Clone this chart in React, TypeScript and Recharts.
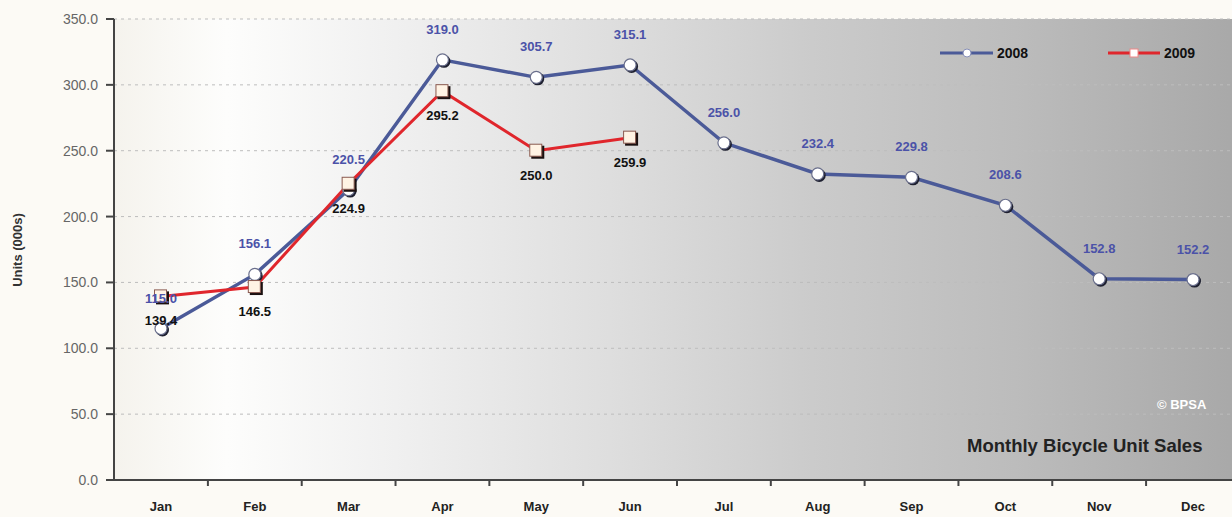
import React from "react";
import {
  LineChart,
  Line,
  XAxis,
  YAxis,
  CartesianGrid,
  Legend,
  LabelList,
} from "recharts";

const MONTHS = ["Jan", "Feb", "Mar", "Apr", "May", "Jun", "Jul", "Aug", "Sep", "Oct", "Nov", "Dec"];
const SALES_2008 = [115.0, 156.1, 220.5, 319.0, 305.7, 315.1, 256.0, 232.4, 229.8, 208.6, 152.8, 152.2];
const SALES_2009 = [139.4, 146.5, 224.9, 295.2, 250.0, 259.9, null, null, null, null, null, null];
const Y_TICKS = [0, 50, 100, 150, 200, 250, 300, 350];

const BLUE = "#4b5a98";
const RED = "#e0262c";
const FONT = "'Liberation Sans', Arial, sans-serif";
const HALF_BAND = 46.9;

const data = MONTHS.map((m, i) => ({ month: m, y2008: SALES_2008[i], y2009: SALES_2009[i] }));

function MonthTick(props: any) {
  const { x, y, payload } = props;
  return (
    <g>
      <line x1={x + HALF_BAND} x2={x + HALF_BAND} y1={y} y2={y + 6} stroke="#444" strokeWidth={2} />
      <text x={x} y={y + 31} textAnchor="middle" fontFamily={FONT} fontWeight="bold" fontSize={13} fill="#222">
        {payload.value}
      </text>
    </g>
  );
}

function CircleDot(props: any) {
  const { cx, cy, index } = props;
  if (cx == null || cy == null) return <g key={`c${index}`} />;
  return (
    <g key={`c${index}`}>
      <circle cx={cx + 1.5} cy={cy + 1.5} r={6.5} fill="#1e2030" />
      <circle cx={cx} cy={cy} r={6} fill="#ffffff" stroke="#6a6f8c" strokeWidth={1.2} />
    </g>
  );
}

function SquareDot(props: any) {
  const { cx, cy, index, value } = props;
  if (cx == null || cy == null || value == null) return <g key={`s${index}`} />;
  return (
    <g key={`s${index}`}>
      <rect x={cx - 5} y={cy - 5} width={13} height={13} fill="#1a1010" />
      <rect x={cx - 6.5} y={cy - 6.5} width={12} height={12} fill="#fff3e4" stroke="#8a5a50" strokeWidth={1} />
    </g>
  );
}

function Label2008(props: any) {
  const { x, y, value } = props;
  if (value == null) return null;
  return (
    <text x={x} y={y - 26} textAnchor="middle" fontFamily={FONT} fontWeight="bold" fontSize={13} fill="#4b52a8">
      {Number(value).toFixed(1)}
    </text>
  );
}

function Label2009(props: any) {
  const { x, y, value } = props;
  if (value == null) return null;
  return (
    <text x={x} y={y + 29} textAnchor="middle" fontFamily={FONT} fontWeight="bold" fontSize={13} fill="#111">
      {Number(value).toFixed(1)}
    </text>
  );
}

function LegendBox() {
  return (
    <svg width={300} height={22}>
      <line x1={6} x2={59} y1={11} y2={11} stroke={BLUE} strokeWidth={3} />
      <circle cx={33} cy={11} r={4} fill="#fff" stroke="#8890b8" strokeWidth={1} />
      <text x={63} y={16} fontFamily={FONT} fontWeight="bold" fontSize={14} fill="#111">2008</text>
      <line x1={174} x2={226} y1={11} y2={11} stroke={RED} strokeWidth={3} />
      <rect x={196} y={7} width={8} height={8} fill="#fff" stroke="#e88" strokeWidth={1} />
      <text x={230} y={16} fontFamily={FONT} fontWeight="bold" fontSize={14} fill="#111">2009</text>
    </svg>
  );
}

function YLabel() {
  return (
    <text
      x={22}
      y={250}
      transform="rotate(-90 22 250)"
      textAnchor="middle"
      fontFamily={FONT}
      fontWeight="bold"
      fontSize={13}
      fill="#333"
    >
      Units (000s)
    </text>
  );
}

export default function App() {
  return (
    <div
      style={{
        position: "fixed",
        left: 0,
        top: 0,
        width: 1232,
        height: 517,
        overflow: "hidden",
        background: "#fcfaf5",
      }}
    >
      <LineChart width={1240} height={517} data={data} margin={{ top: 19, right: 0, bottom: 0, left: 0 }}>
        <defs>
          <linearGradient id="plotBg" x1="0" y1="0" x2="1" y2="0">
            <stop offset="0" stopColor="#f5f3ed" />
            <stop offset="0.1" stopColor="#fdfdfc" />
            <stop offset="0.25" stopColor="#f0f0f0" />
            <stop offset="0.44" stopColor="#dedede" />
            <stop offset="0.62" stopColor="#cbcbcb" />
            <stop offset="0.8" stopColor="#bcbcbc" />
            <stop offset="1" stopColor="#a8a8a8" />
          </linearGradient>
        </defs>
        <CartesianGrid
          vertical={false}
          strokeDasharray="3 4"
          stroke="#bdbdbd"
          fill="url(#plotBg)"
          fillOpacity={1}
        />
        <XAxis
          dataKey="month"
          height={37}
          tickSize={0}
          tickMargin={0}
          padding={{ left: 47, right: 47 }}
          axisLine={{ stroke: "#444", strokeWidth: 2 }}
          tick={<MonthTick />}
          interval={0}
        />
        <YAxis
          width={114}
          domain={[0, 350]}
          ticks={Y_TICKS}
          tickFormatter={(v: number) => v.toFixed(1)}
          tickSize={8}
          tickMargin={8}
          axisLine={{ stroke: "#444", strokeWidth: 2 }}
          tickLine={{ stroke: "#444", strokeWidth: 2 }}
          tick={{ fontFamily: FONT, fontSize: 14, fill: "#666" }}
          label={{ content: () => <YLabel /> }}
        />
        <Legend
          layout="horizontal"
          verticalAlign="middle"
          align="center"
          content={() => <LegendBox />}
          wrapperStyle={{ top: 42, left: 934, width: 300, height: 22 }}
        />
        <Line
          type="linear"
          dataKey="y2008"
          name="2008"
          stroke={BLUE}
          strokeWidth={3.5}
          dot={<CircleDot />}
          activeDot={false}
          isAnimationActive={false}
        >
          <LabelList dataKey="y2008" content={<Label2008 />} />
        </Line>
        <Line
          type="linear"
          dataKey="y2009"
          name="2009"
          stroke={RED}
          strokeWidth={3}
          dot={<SquareDot />}
          activeDot={false}
          isAnimationActive={false}
        >
          <LabelList dataKey="y2009" content={<Label2009 />} />
        </Line>
      </LineChart>
      <div
        style={{
          position: "absolute",
          left: 1157,
          top: 397,
          fontFamily: FONT,
          fontWeight: "bold",
          fontSize: 13,
          color: "#ffffff",
        }}
      >
        © BPSA
      </div>
      <div
        style={{
          position: "absolute",
          left: 967,
          top: 435,
          fontFamily: FONT,
          fontWeight: "bold",
          fontSize: 18.5,
          color: "#222",
          whiteSpace: "nowrap",
        }}
      >
        Monthly Bicycle Unit Sales
      </div>
    </div>
  );
}
